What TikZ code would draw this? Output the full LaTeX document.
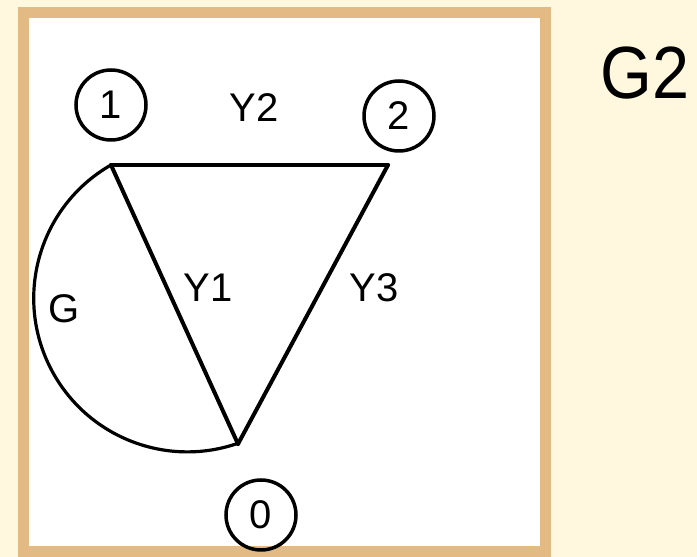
\documentclass[tikz,border=0pt]{standalone}
\usepackage{fontspec}
\setmainfont{Liberation Sans}
\definecolor{creambg}{RGB}{255,248,222}
\definecolor{tanframe}{RGB}{227,186,132}
\begin{document}
\begin{tikzpicture}[x=1pt,y=1pt,
  vertexlabel/.style={draw=black, line width=3.5pt, circle, minimum size=70pt, inner sep=0pt,
    font=\fontsize{40}{48}\selectfont},
  edgelabel/.style={inner sep=0pt, font=\fontsize{40}{48}\selectfont},
  edgeline/.style={line width=4pt, line cap=round, line join=miter}]
  % canvas
  \fill[creambg] (0,0) rectangle (697,557);
  \useasboundingbox (0,0) rectangle (697,557);
  \draw[tanframe, line width=11pt, fill=white] (23,5) rectangle (545,544.5);
  % vertex points
  \coordinate (v1) at (111,392);
  \coordinate (v2) at (388,392);
  \coordinate (v0) at (238,113);
  % vertex labels
  \node[vertexlabel] (n1) at (111,452) {1};
  \node[vertexlabel] (n2) at (399,441) {2};
  \node[vertexlabel] (n0) at (261,42) {0};
  % edges
  \draw[edgeline] (v1) -- (v2);
  \draw[edgeline] (v2) -- (v0);
  \draw[edgeline] (v1) -- (v0);
  \draw[line width=3.2pt] (v1) arc[start angle=119.8, end angle=289.6, radius=153.6];
  % edge labels
  \node[edgelabel] (ly2) at (254,449) {Y2};
  \node[edgelabel] (ly1) at (208,269) {Y1};
  \node[edgelabel] (ly3) at (374,269) {Y3};
  \node[edgelabel] (lg) at (64,248) {G};
  % title
  \node[inner sep=0pt, font=\fontsize{74}{80}\selectfont, xscale=0.9] (title) at (645,484) {G2};
\end{tikzpicture}
\end{document}
